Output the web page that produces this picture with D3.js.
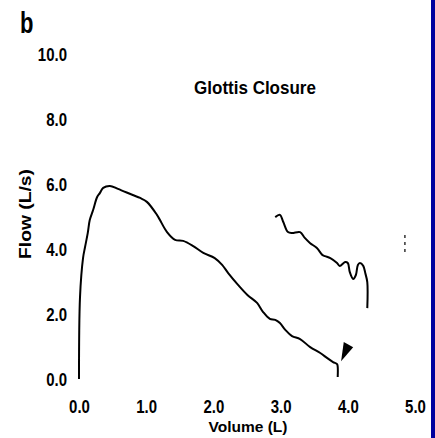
<!DOCTYPE html>
<html>
<head>
<meta charset="utf-8">
<script src="https://cdn.jsdelivr.net/npm/d3@7"></script>
<style>
  html, body { margin: 0; padding: 0; background: #fff; }
  svg { display: block; }
  text { font-family: "Liberation Sans", Arial, Helvetica, sans-serif; font-weight: bold; fill: #000; }
</style>
</head>
<body>
<svg id="chart" width="435" height="438"></svg>
<script>
// Flow-volume loop, glottis closure
const xTicks = [0, 1, 2, 3, 4, 5];
const yTicks = [0, 2, 4, 6, 8, 10];

// Expiratory flow vs. volume: [volume L, flow L/s]
const expVolume = [0, 0.015, 0.06, 0.09, 0.13, 0.16, 0.21, 0.27, 0.31, 0.36, 0.46, 0.58, 0.80, 0.91, 1.01,
  1.16, 1.31, 1.43, 1.55, 1.70, 1.85, 2.02, 2.13, 2.22, 2.37, 2.51, 2.65, 2.74, 2.84, 2.92, 2.99,
  3.07, 3.17, 3.29, 3.44, 3.59, 3.69, 3.78, 3.84, 3.85, 3.85];
const expFlow = [0, 2.52, 3.72, 4.06, 4.49, 4.89, 5.20, 5.60, 5.72, 5.88, 5.94, 5.85, 5.66, 5.57, 5.45,
  5.05, 4.52, 4.28, 4.25, 4.09, 3.88, 3.72, 3.51, 3.26, 2.89, 2.58, 2.34, 2.06, 1.85, 1.82, 1.72,
  1.51, 1.32, 1.23, 0.98, 0.80, 0.65, 0.52, 0.46, 0.37, 0.06];

// Second trace after closure
const closVolume = [2.92, 2.99, 3.04, 3.11, 3.17, 3.29, 3.36, 3.44, 3.54, 3.62, 3.66, 3.74, 3.84, 3.88,
  3.96, 4.00, 4.03, 4.08, 4.12, 4.15, 4.18, 4.23, 4.26, 4.29, 4.29];
const closFlow = [4.98, 5.05, 4.83, 4.52, 4.49, 4.52, 4.34, 4.18, 4.03, 3.82, 3.78, 3.72, 3.57, 3.48,
  3.60, 3.57, 3.29, 3.08, 3.20, 3.51, 3.57, 3.48, 3.26, 2.98, 2.18];

// Arrowhead marking the closure point: [volume, flow]
const arrowMark = [[3.90, 0.55], [3.94, 1.14], [4.08, 0.98]];
// Faint vertical trace fragment on the right
const sideTrace = [[4.85, 4.43], [4.85, 3.80]];

const svg = d3.select("#chart");

const x = d3.scaleLinear().domain([0, 5]).range([79, 415]);
const y = d3.scaleLinear().domain([0, 10]).range([379, 54]);

// blue strip along the right edge
svg.append("rect").attr("x", 431).attr("y", 0).attr("width", 4).attr("height", 438).attr("fill", "#00009e");

// axes: labels only, no lines
const fmt = d3.format(".1f");
const gx = svg.append("g").attr("transform", `translate(0,${y(0)})`)
  .call(d3.axisBottom(x).tickValues(xTicks).tickFormat(fmt).tickSize(0));
gx.select(".domain").remove();
gx.selectAll("text")
  .attr("y", 0).attr("dy", 0)
  .attr("transform", "translate(0,34) scale(1,1.2)")
  .attr("font-size", 15).attr("font-family", null).attr("fill", "#000");

const gy = svg.append("g").attr("transform", `translate(${x(0)},0)`)
  .call(d3.axisLeft(y).tickValues(yTicks).tickFormat(fmt).tickSize(0));
gy.select(".domain").remove();
gy.selectAll("text")
  .attr("x", 0).attr("dy", 0)
  .attr("transform", "translate(-12,6.3) scale(1,1.2)")
  .attr("font-size", 15).attr("font-family", null).attr("fill", "#000");

// traces
const line = d3.line().x(d => x(d[0])).y(d => y(d[1])).curve(d3.curveCatmullRom.alpha(0.5));
svg.append("path")
  .datum(expVolume.map((v, i) => [v, expFlow[i]]))
  .attr("d", line).attr("fill", "none").attr("stroke", "#000")
  .attr("stroke-width", 2).attr("stroke-linejoin", "round");
svg.append("path")
  .datum(closVolume.map((v, i) => [v, closFlow[i]]))
  .attr("d", line).attr("fill", "none").attr("stroke", "#000")
  .attr("stroke-width", 2).attr("stroke-linejoin", "round");

svg.append("path")
  .datum(arrowMark)
  .attr("d", d3.line().x(d => x(d[0])).y(d => y(d[1])).curve(d3.curveLinearClosed))
  .attr("fill", "#000");

svg.append("path")
  .datum(sideTrace)
  .attr("d", d3.line().x(d => x(d[0])).y(d => y(d[1])))
  .attr("stroke", "#000").attr("stroke-width", 1.2).attr("stroke-dasharray", "3,4");

// titles
svg.append("text").attr("transform", "translate(20,33) scale(1,1.3)")
  .attr("font-size", 22).text("b");
svg.append("text").attr("transform", "translate(255,94) scale(1,1.1)")
  .attr("text-anchor", "middle").attr("font-size", 17).text("Glottis Closure");
svg.append("text").attr("transform", "translate(248,432)")
  .attr("text-anchor", "middle").attr("font-size", 15.5).text("Volume (L)");
svg.append("text").attr("transform", "translate(31,214) rotate(-90)")
  .attr("text-anchor", "middle").attr("font-size", 16)
  .attr("textLength", 90).attr("lengthAdjust", "spacingAndGlyphs").text("Flow (L/s)");
</script>
</body>
</html>
